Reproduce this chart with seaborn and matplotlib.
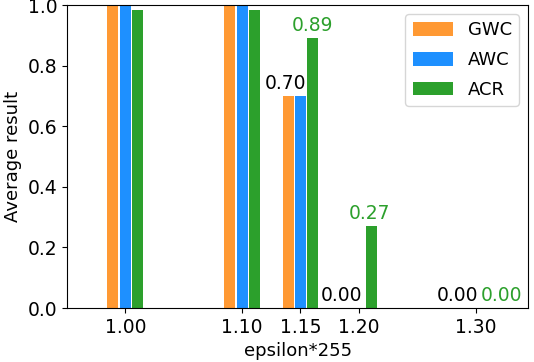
import pandas as pd
import matplotlib.pyplot as plt
import seaborn as sns

# values
eps = [1.00, 1.10, 1.15, 1.20, 1.30]
gwc = [1.00, 1.00, 0.70, 0.00, 0.00]
awc = [1.00, 1.00, 0.70, 0.00, 0.00]
acr = [0.985, 0.983, 0.89, 0.27, 0.00]
methods = ["GWC", "AWC", "ACR"]
colors = ["#FF9933", "#1E90FF", "#2CA02C"]

rows = []
for name, vals in zip(methods, [gwc, awc, acr]):
    for e, v in zip(eps, vals):
        rows.append({"eps": e, "method": name, "value": v})
df = pd.DataFrame(rows)

fig, ax = plt.subplots(figsize=(5.34, 3.62), dpi=100)
fig.subplots_adjust(left=0.1255, right=0.989, top=0.986, bottom=0.149)

sns.barplot(data=df, x="eps", y="value", hue="method", hue_order=methods,
            palette=colors, saturation=1, native_scale=True, width=0.64,
            gap=0.12, errorbar=None, ax=ax)

"""
value labels (black = GWC, green = ACR)
"""
labels = [
    (1.15, -0.0125, gwc[2], "black"),
    (1.15, 0.0105, acr[2], "#2CA02C"),
    (1.20, -0.0145, gwc[3], "black"),
    (1.20, 0.0095, acr[3], "#2CA02C"),
    (1.30, -0.0158, gwc[4], "black"),
    (1.30, 0.0222, acr[4], "#2CA02C"),
]
for x, dx, v, c in labels:
    ax.text(x + dx, v + 0.01, f"{v:.2f}", color=c, ha="center", va="bottom",
            fontsize=13.5)

ax.set_xlim(0.95, 1.345)
ax.set_ylim(0, 1.0)
ax.set_xticks(eps)
ax.set_xticklabels([f"{e:.2f}" for e in eps])
ax.tick_params(labelsize=13.5)
ax.set_xlabel("epsilon*255", fontsize=13)
ax.set_ylabel("Average result", fontsize=13)

handles, names = ax.get_legend_handles_labels()
ax.legend(handles, names, loc="upper right", fontsize=13,
          handlelength=2.25, handleheight=0.8, labelspacing=0.65)

plt.savefig("out.png")
